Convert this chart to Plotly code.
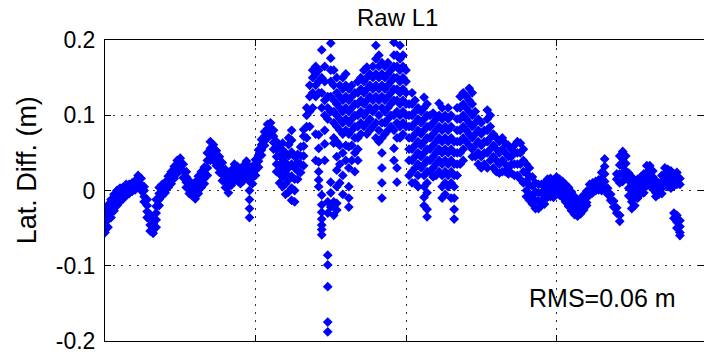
import plotly.graph_objects as go

# Latitude difference of the raw L1 solution, one row per 20 s epoch,
# several samples per epoch (centimetres).
epoch_step_s = 20
lat_diff_cm = [
    [-5.6, -4.6, -3.6, -2.6], [-4.9, -3.9, -2.9, -1.9], [-3.6, -2.8, -2.0, -1.2],
    [-2.7, -1.9, -1.2, -0.5], [-2.0, -1.3, -0.6, 0.0], [-1.5, -0.9, -0.3, 0.3],
    [-1.1, -0.5, 0.0, 0.4], [-0.7, -0.1, 0.4, 0.8], [-0.4, 0.2, 0.8],
    [-0.1, 0.5, 1.0], [0.1, 0.7, 1.3], [0.7, 1.3, 2.0], [0.0, 0.8, 1.6],
    [-1.5, -0.8, 0.0, 0.5], [-3.6, -2.8, -2.0, -1.2], [-5.4, -4.6, -3.9, -3.2],
    [-5.7, -5.0, -4.4, -3.9], [-4.9, -3.9, -3.0, -2.1, -1.2],
    [-2.0, -1.2, -0.4, 0.4], [-0.7, 0.0, 0.8], [-0.3, 0.4, 1.1],
    [0.4, 1.1, 1.9], [0.9, 1.7, 2.5], [1.6, 2.4, 3.2], [2.3, 3.1, 4.0],
    [2.7, 3.5, 4.3], [1.7, 2.6, 3.5], [0.4, 1.1, 1.8, 2.5], [-0.4, 0.4, 1.3],
    [-0.7, 0.0, 0.8], [-1.1, -0.3, 0.4, 1.1], [-0.4, 0.4, 1.1, 1.9],
    [0.4, 1.1, 1.8, 2.5], [0.9, 1.6, 2.3, 3.1], [2.0, 3.0, 4.0, 5.0],
    [4.0, 4.8, 5.6, 6.5], [4.0, 4.7, 5.4, 6.1], [3.3, 4.0, 4.7, 5.3],
    [2.4, 3.1, 3.8, 4.5], [1.3, 2.1, 2.9, 3.7], [0.4, 1.2, 2.0, 2.8],
    [-0.3, 0.5, 1.3, 2.1], [0.7, 1.4, 2.0, 2.7], [1.3, 2.0, 2.8, 3.5],
    [1.3, 2.0, 2.6, 3.2], [0.9, 1.6, 2.3, 2.9], [1.3, 2.0, 2.7, 3.3],
    [2.0, 2.6, 3.3, 3.9], [3.2, 2.2, 1.2, 0.0, -1.2, -2.4, -3.6],
    [0.9, 1.7, 2.5, 3.2], [2.0, 2.7, 3.4, 4.1], [3.1, 3.9, 4.7, 5.4],
    [4.7, 5.4, 6.1, 6.8], [6.0, 6.6, 7.2, 7.8], [7.0, 7.6, 8.2, 8.8],
    [7.6, 8.3, 9.0], [5.5, 6.4, 7.2, 8.0], [2.5, 3.5, 4.5, 5.5, 6.5],
    [1.0, 2.2, 3.4, 4.6, 5.8], [0.5, 1.8, 3.0, 4.2, 5.4, 6.3],
    [-0.5, 0.9, 2.3, 3.7, 5.0], [-0.2, 1.4, 3.0, 4.6, 6.1, 7.0],
    [-1.3, 0.3, 1.9, 3.5, 5.1, 6.7, 8.0], [-1.5, 0.0, 1.5, 3.0, 4.5],
    [1.5, 2.6, 3.7, 4.8], [2.4, 3.5, 4.6, 5.8], [3.3, 4.6, 5.9, 7.2, 8.1],
    [7.0, 8.5, 10.0, 11.0], [8.5, 10.5, 12.5, 14.0], [11.0, 13.0, 15.0, 16.0],
    [12.5, 14.0, 15.5, 16.5, 7.5, 4.0],
    [16.0, 14.5, 13.0, 7.4, 5.6, 3.8, 2.5, 1.4, 0.5],
    [18.7, 15.0, 13.0, 11.0, -0.6, -1.9, -2.9, -3.8, -4.6, -5.2, -5.9],
    [16.5, 14.5, 12.0, 10.0, 8.0, 6.2, 4.0],
    [-3.0, -1.5, -8.6, -9.9, -12.8, -17.5, -18.8, 12.5, 11.0, 9.5],
    [19.6, 17.6, 16.0, 14.5, 12.5, 10.5, 1.1, -0.3, -2.2],
    [16.0, 14.0, 12.0, 10.5, 9.0, 7.0, 6.3, -1.5, -3.3],
    [15.0, 13.0, 11.5, 10.0, 8.5, 6.5, 4.5, 2.7, 0.5, -1.7, -2.6],
    [14.0, 12.5, 11.0, 9.5, 8.0, 6.0, 3.5, 1.0],
    [15.0, 13.5, 12.0, 10.5, 9.0, 7.5, 5.0, 2.0, -0.5],
    [15.5, 14.0, 12.5, 11.0, 9.5, 8.0, 6.0, 4.0],
    [13.5, 12.0, 10.5, 9.0, 7.5, 5.8, 3.0, 0.5, -1.0, -2.2],
    [14.0, 12.5, 11.0, 9.5, 8.0, 6.0, 4.0],
    [13.0, 11.5, 10.0, 8.5, 7.0, 5.0, 2.5],
    [14.5, 13.0, 11.5, 10.0, 8.5, 7.0, 5.5, 4.0],
    [15.0, 13.5, 12.0, 10.5, 9.0, 7.5],
    [16.0, 14.5, 13.0, 11.5, 10.0, 8.5],
    [16.4, 15.0, 13.5, 12.0, 10.5, 9.0, 7.5],
    [15.5, 14.0, 12.5, 11.0, 9.5, 8.0],
    [16.5, 15.0, 13.5, 12.0, 10.5, 8.5],
    [19.3, 17.5, 15.5, 14.0, 12.5, 11.0, 9.0, 7.0],
    [18.0, 16.5, 15.0, 13.5, 12.0, 10.0, 8.0, 6.5],
    [17.0, 15.5, 14.0, 12.5, 11.0, 9.0, 7.0, 5.0, 3.0, 1.0, -1.0],
    [16.5, 15.0, 13.5, 12.0, 10.5, 9.0, 7.5],
    [17.0, 15.5, 14.0, 12.5, 11.0, 9.5, 8.0],
    [16.0, 14.5, 13.0, 11.5, 10.0, 8.5],
    [19.7, 18.0, 16.5, 15.0, 13.5, 12.0, 10.0, 8.0, 5.6, 4.0],
    [18.0, 16.5, 15.0, 13.5, 12.0, 10.5, 9.0, 7.0, 3.0, 1.1],
    [19.3, 17.5, 16.0, 14.5, 13.0, 11.5, 10.0, 8.5, 7.0],
    [18.0, 16.5, 15.0, 13.5, 12.0, 10.5, 9.0, 7.5],
    [16.0, 14.5, 13.0, 11.5, 10.0, 8.5],
    [11.5, 10.0, 8.5, 7.0, 5.5, 4.0, 2.0],
    [13.0, 11.5, 10.0, 8.5, 7.0, 5.5, 4.0, 2.5, 1.0],
    [12.0, 10.5, 9.0, 7.5, 6.0, 4.5, 3.0, 1.0],
    [11.0, 9.5, 8.0, 6.5, 5.0, 3.5, 2.0, 0.5],
    [10.5, 9.0, 7.5, 6.0, 4.5, 3.0],
    [12.4, 11.0, 9.5, 8.0, 6.5, 5.0, 3.5, 2.0, 0.5, -0.9, -2.0],
    [11.5, 10.0, 8.5, 7.0, 5.5, 4.0, 2.5, 1.0, -0.3, -2.5, -3.5],
    [10.0, 8.5, 7.0, 5.5, 4.0, 2.5],
    [10.3, 9.0, 7.5, 6.0, 4.5, 3.0, 1.8],
    [9.5, 8.0, 6.5, 5.0, 3.5, 2.0],
    [11.6, 10.0, 8.5, 7.0, 5.5, 4.0, 2.5],
    [11.0, 9.5, 8.0, 6.5, 5.0, 3.5, 2.0, 0.5, -1.0],
    [10.0, 8.5, 7.0, 5.5, 4.0, 2.5, 1.0, -0.5],
    [11.0, 9.5, 8.0, 6.5, 5.0, 3.5, 2.0, 0.5],
    [10.0, 8.5, 7.0, 5.5, 4.0, 2.5, 1.0, -1.0],
    [6.5, 5.0, 3.5, 2.0, 0.5, -1.0, -2.5, -3.8],
    [11.0, 9.5, 8.0, 6.5, 5.0, 3.5, 2.0],
    [12.5, 11.0, 9.5, 8.0, 6.5, 5.0, 3.5],
    [13.0, 11.5, 10.0, 8.5, 7.0, 5.5, 4.0],
    [12.5, 11.0, 9.5, 8.0, 6.5],
    [13.6, 12.0, 10.5, 9.0, 7.5, 6.0],
    [13.0, 11.5, 10.0, 8.5, 7.0, 5.5, 4.5],
    [10.5, 9.0, 7.5, 6.0, 4.5], [9.5, 8.0, 6.5, 5.0, 3.5],
    [9.0, 7.5, 6.0, 4.5, 3.0], [8.0, 6.5, 5.0, 3.5],
    [10.7, 9.5, 8.0, 6.5, 5.0, 3.0], [10.0, 8.5, 7.0, 5.5, 4.0],
    [7.5, 6.0, 4.5, 3.0], [7.0, 5.5, 4.0, 2.5], [6.5, 5.0, 3.5, 2.3],
    [7.0, 5.5, 4.0, 2.5], [6.3, 5.0, 3.5, 2.5], [6.0, 4.5, 3.0, 2.2],
    [5.5, 4.5, 3.5, 2.3], [6.0, 5.0, 3.5, 2.0], [6.5, 5.0, 3.5, 2.0],
    [6.3, 5.0, 3.5, 1.5], [5.5, 4.0, 2.5, 1.0],
    [3.5, 2.3, 1.2, 0.0, -0.8], [3.0, 1.8, 0.7, -0.5, -1.3],
    [1.8, 0.6, -0.6, -1.8], [1.0, -0.2, -1.3, -2.4], [0.8, -0.3, -1.4, -2.4],
    [0.8, -0.3, -1.4, -2.0], [1.0, 0.0, -1.0, -1.8],
    [1.5, 0.6, -0.3, -0.9], [1.6, 0.7, -0.2, -0.8], [1.4, 0.5, -0.3, -0.9],
    [1.8, 0.9, 0.0, -0.5], [1.5, 0.6, -0.2, -0.6], [1.2, 0.3, -0.4, -0.9],
    [0.8, -0.1, -0.9, -1.5], [0.4, -0.6, -1.5, -2.1],
    [-0.2, -1.1, -2.0, -2.7], [-0.8, -1.8, -2.6, -3.2], [-1.2, -2.2, -2.9, -3.4],
    [-1.1, -2.0, -2.7, -3.1], [-0.6, -1.5, -2.2, -2.6], [-0.1, -0.9, -1.6, -2.0],
    [0.8, 0.0, -0.6], [1.0, 0.3, -0.3], [1.2, 0.5, 0.0], [1.4, 0.7, 0.1],
    [0.0, 0.8, 1.6, 2.4], [4.2, 3.2, 2.2, 1.2, 0.2], [0.3, -0.5], [-0.5, -1.3],
    [-1.4, -2.2], [-2.3, -3.0, 1.5, 2.2], [-3.3, -4.1, 1.0, 2.2, 3.4, 4.6],
    [5.2, 4.2, 3.2, 2.2, 1.2], [4.6, 3.6, 2.6, 1.6], [2.3, 1.3, 0.3, -0.7],
    [1.8, 0.7, -0.4, -1.5, -2.4], [1.2, 0.1, -1.0, -2.0], [1.5, 0.6, -0.3, -1.0],
    [1.8, 1.0, 0.2, -0.4], [2.2, 1.3, 0.4, -0.3], [3.3, 2.4, 1.5, 0.6],
    [3.3, 2.5, 1.7, 0.9], [2.6, 1.8, 1.0, 0.2], [1.3, 0.5, -0.3, -0.8],
    [1.0, 0.2, -0.5], [2.0, 1.1, 0.3, -0.4], [3.0, 2.2, 1.4, 0.7],
    [2.8, 2.0, 1.2, 0.5], [2.6, 1.8, 1.0, 0.3], [2.2, 1.4, 0.6, -3.0, -3.7],
    [2.4, 1.6, 0.8, -3.3, -4.2, -5.0], [1.6, 0.8, -4.0, -4.8, -5.6, -6.0],
]

y_ticks = [-0.2, -0.1, 0, 0.1, 0.2]
y_tick_text = ["-0.2", "-0.1", "0", "0.1", "0.2"]
x_ticks = [1000, 2000, 3000]
rms_m = 0.06

t_s, lat_m = [], []
for k, samples in enumerate(lat_diff_cm):
    for v in samples:
        t_s.append(k * epoch_step_s)
        lat_m.append(v / 100.0)

font = "Arial, 'Liberation Sans', Helvetica, sans-serif"

fig = go.Figure(
    go.Scatter(
        x=t_s, y=lat_m, mode="markers",
        marker=dict(symbol="diamond", size=7.5, color="#0000FF", line=dict(width=0)),
        hoverinfo="skip",
    )
)

fig.update_layout(
    width=704, height=354,
    margin=dict(l=105, r=0, t=40, b=13),
    paper_bgcolor="white", plot_bgcolor="white",
    showlegend=False,
    font=dict(family=font, color="black"),
    xaxis=dict(
        range=[0, 3980], tickvals=x_ticks, showticklabels=False,
        ticks="inside", ticklen=6, tickcolor="black", tickwidth=1,
        showline=True, linecolor="black", linewidth=1, mirror="ticks",
        showgrid=True, gridcolor="#333333", gridwidth=1, griddash="2px,6px",
        zeroline=False,
    ),
    yaxis=dict(
        range=[-0.2002, 0.2002], tickvals=y_ticks, ticktext=y_tick_text,
        ticks="inside", ticklen=6, tickcolor="black", tickwidth=1,
        tickfont=dict(size=23, family=font, color="black"),
        ticklabelstandoff=4, ticklabeloverflow="allow",
        showline=True, linecolor="black", linewidth=1, mirror="ticks",
        showgrid=True, gridcolor="#333333", gridwidth=1, griddash="2px,6px",
        zeroline=False,
    ),
    annotations=[
        dict(text="Raw L1", xref="paper", yref="paper", x=0.489, y=1.0,
             yshift=23, xanchor="center", yanchor="middle", showarrow=False,
             font=dict(size=24, family=font, color="black")),
        dict(text="Lat. Diff. (m)", xref="paper", yref="paper", x=-0.130, y=0.568,
             textangle=-90, xanchor="center", yanchor="middle", showarrow=False,
             font=dict(size=27, family=font, color="black")),
        dict(text=f"RMS={rms_m:.2f} m", xref="paper", yref="paper", x=0.7045, y=0.143,
             xanchor="left", yanchor="middle", showarrow=False,
             font=dict(size=25, family=font, color="black")),
    ],
)

fig.write_html("out.html")
